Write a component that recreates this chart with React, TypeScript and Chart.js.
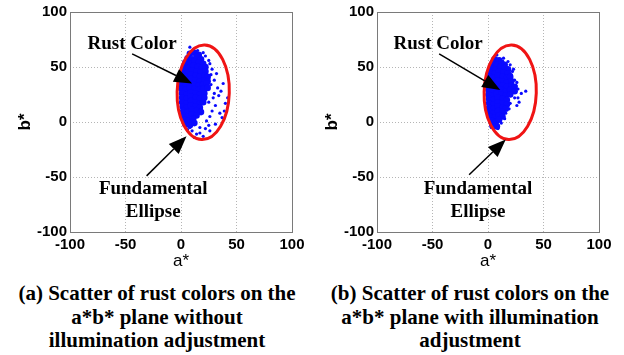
import React, { useEffect, useRef } from "react";
import { Chart, registerables } from "chart.js";

Chart.register(...registerables);

// ---- data ----
const axisTicks = [-100, -50, 0, 50, 100];
const xTitle = "a*";
const yTitle = "b*";

// fundamental ellipse in a*b* units: centre, semi-axes, tilt (radians)
const ellipseCenter = [20, 27];
const ellipseRadii = [23.5, 43];
const ellipseTilt = 0.03;

const rustLabel = "Rust Color";
const ellipseLabel = ["Fundamental", "Ellipse"];

// panel (a): dense core and sparse scatter
const coreA: number[][] = [
  [8, 62], [12, 63], [16, 61],
  [6, 58], [10, 57], [14, 59], [18, 57],
  [4, 54], [8, 53], [12, 55], [16, 54], [20, 53],
  [3, 50], [7, 49], [11, 51], [15, 50], [19, 49], [22, 50],
  [2, 46], [6, 45], [10, 47], [14, 46], [18, 45], [22, 46],
  [1, 42], [5, 41], [9, 43], [13, 42], [17, 41], [21, 42], [24, 41],
  [1, 38], [5, 37], [9, 39], [13, 38], [17, 37], [21, 38], [24, 37],
  [0.5, 34], [4, 33], [8, 35], [12, 34], [16, 33], [20, 34], [23, 35],
  [0.5, 30], [4, 29], [8, 31], [12, 30], [16, 29], [20, 30], [24, 31],
  [1, 26], [5, 25], [9, 27], [13, 26], [17, 25], [21, 26],
  [1, 22], [5, 21], [9, 23], [13, 22], [17, 21], [21, 22],
  [1, 18], [5, 17], [9, 19], [13, 18], [17, 17], [20, 18],
  [1.5, 14], [5, 13], [9, 15], [13, 14], [17, 13],
  [2, 10], [6, 9], [10, 11], [14, 10], [18, 9],
  [2.5, 6], [6, 5], [10, 7], [14, 6],
  [3, 2], [7, 1], [11, 3],
  [4, -2], [8, -3], [12, -1],
];
const outliersA: number[][] = [
  [8, 68], [11, 66], [15, 65], [20, 63], [22, 60], [25, 56], [26, 53], [28, 48],
  [32, 44], [27, 43], [30, 38], [33, 31], [38, 35], [36, 28], [29, 22], [34, 24],
  [40, 17], [31, 15], [28, 10], [35, 8], [37, 4], [26, 5], [31, -2], [23, 1],
  [26, -8], [20, -13], [17, -10], [14, -11], [10, -8], [8, -5], [17, -5], [6, -7],
  [22, -6], [12, -14], [25, -3], [30, 26], [27, 34], [25, 18], [42, 22], [39, 10],
];

// panel (b)
const coreB: number[][] = [
  [6, 57], [10, 56],
  [4, 53], [8, 52], [12, 54], [15, 52],
  [3, 49], [7, 48], [11, 50], [15, 49], [18, 48],
  [2, 45], [6, 44], [10, 46], [14, 45], [18, 44],
  [1.5, 41], [5, 40], [9, 42], [13, 41], [17, 40], [20, 41],
  [1, 37], [5, 36], [9, 38], [13, 37], [17, 36], [21, 37],
  [1, 33], [5, 32], [9, 34], [13, 33], [17, 32], [21, 33], [24, 32],
  [0.5, 29], [4, 28], [8, 30], [12, 29], [16, 28], [20, 29], [24, 28],
  [0.5, 25], [4, 24], [8, 26], [12, 25], [16, 24], [20, 25],
  [1, 21], [5, 20], [9, 22], [13, 21], [17, 20],
  [1, 17], [5, 16], [9, 18], [13, 17], [17, 16],
  [1, 13], [5, 12], [9, 14], [13, 13], [16, 12],
  [1.5, 9], [5, 8], [9, 10], [13, 9],
  [2, 5], [6, 4], [10, 6], [13, 5],
  [3, 1], [7, 0], [10, 2],
  [4, -3], [8, -4],
];
const outliersB: number[][] = [
  [8, 61], [14, 58], [18, 55], [20, 52], [22, 46], [21, 43], [24, 38], [25, 33],
  [27, 30], [34, 28], [30, 26], [27, 22], [24, 22], [26, 15], [28, 18], [20, 17],
  [19, 12], [16, 8], [15, 3], [12, -1], [9, -6], [5, -6], [3, -5], [26, 36], [23, 48],
];

// annotation anchors in a*b* units: [label, tail, tip]
const rustArrowA = [[-44, 71], [-44, 62], [10, 35]];
const ellipseArrowA = [[-25, -61], [-31, -49], [5, -13]];
const rustArrowB = [[-45, 71], [-44, 62], [11, 29]];
const ellipseArrowB = [[-9, -61], [-17, -48], [16, -16]];

const captionA = ["(a) Scatter of rust colors on the", "a*b* plane without", "illumination adjustment"];
const captionB = ["(b) Scatter of rust colors on the", "a*b* plane with illumination", "adjustment"];

// ---- styling ----
const BLUE = "rgb(10,10,255)";
const RED = "rgb(240,20,20)";
const TICK_FONT = { family: "'Liberation Sans', Arial, sans-serif", size: 15, weight: "bold" as const };
const ANNOT_FONT = "bold 19px 'Liberation Serif', 'Times New Roman', serif";

type PanelProps = {
  left: number;
  yAxisWidth: number;
  rightPad: number;
  titlePad: number;
  core: number[][];
  outliers: number[][];
  rustArrow: number[][];
  ellipseArrow: number[][];
};

function drawArrow(ctx: CanvasRenderingContext2D, x0: number, y0: number, x1: number, y1: number) {
  const ang = Math.atan2(y1 - y0, x1 - x0);
  const headLen = 18;
  const headHalf = 7;
  const bx = x1 - headLen * Math.cos(ang);
  const by = y1 - headLen * Math.sin(ang);
  ctx.save();
  ctx.strokeStyle = "#000";
  ctx.fillStyle = "#000";
  ctx.lineWidth = 1.5;
  ctx.beginPath();
  ctx.moveTo(x0, y0);
  ctx.lineTo(bx, by);
  ctx.stroke();
  ctx.beginPath();
  ctx.moveTo(x1, y1);
  ctx.lineTo(bx + headHalf * Math.sin(ang), by - headHalf * Math.cos(ang));
  ctx.lineTo(bx - headHalf * Math.sin(ang), by + headHalf * Math.cos(ang));
  ctx.closePath();
  ctx.fill();
  ctx.restore();
}

function Panel(props: PanelProps) {
  const ref = useRef<HTMLCanvasElement | null>(null);
  useEffect(() => {
    if (!ref.current) return;
    const overlay = {
      id: "overlay",
      afterDatasetsDraw(chart: any) {
        const { ctx, chartArea, scales } = chart;
        const xs = scales.x;
        const ys = scales.y;
        const px = (v: number) => xs.getPixelForValue(v);
        const py = (v: number) => ys.getPixelForValue(v);
        // frame
        ctx.save();
        ctx.strokeStyle = "#7a7a7a";
        ctx.lineWidth = 1;
        ctx.strokeRect(
          Math.round(chartArea.left) + 0.5,
          Math.round(chartArea.top) + 0.5,
          Math.round(chartArea.right - chartArea.left),
          Math.round(chartArea.bottom - chartArea.top)
        );
        // ellipse
        const cx = px(ellipseCenter[0]);
        const cy = py(ellipseCenter[1]);
        const rx = Math.abs(px(ellipseCenter[0] + ellipseRadii[0]) - cx);
        const ry = Math.abs(py(ellipseCenter[1] + ellipseRadii[1]) - cy);
        ctx.strokeStyle = RED;
        ctx.lineWidth = 3;
        ctx.beginPath();
        ctx.ellipse(cx, cy, rx, ry, ellipseTilt, 0, Math.PI * 2);
        ctx.stroke();
        // labels
        ctx.fillStyle = "#000";
        ctx.font = ANNOT_FONT;
        ctx.textAlign = "center";
        ctx.textBaseline = "middle";
        const r = props.rustArrow;
        ctx.fillText(rustLabel, px(r[0][0]), py(r[0][1]));
        const e = props.ellipseArrow;
        ctx.fillText(ellipseLabel[0], px(e[0][0]), py(e[0][1]));
        ctx.fillText(ellipseLabel[1], px(e[0][0]), py(e[0][1]) + 23);
        ctx.restore();
        drawArrow(ctx, px(r[1][0]), py(r[1][1]), px(r[2][0]), py(r[2][1]));
        drawArrow(ctx, px(e[1][0]), py(e[1][1]), px(e[2][0]), py(e[2][1]));
      },
    };
    const gridColor = (c: any) =>
      c.tick && (c.tick.value === -100 || c.tick.value === 100) ? "rgba(0,0,0,0)" : "#b5b5b5";
    const chart = new Chart(ref.current, {
      type: "scatter",
      data: {
        datasets: [
          {
            data: props.core.map(([x, y]) => ({ x, y })),
            backgroundColor: BLUE,
            borderWidth: 0,
            pointRadius: 3.3,
            pointHoverRadius: 3.3,
          },
          {
            data: props.outliers.map(([x, y]) => ({ x, y })),
            backgroundColor: BLUE,
            borderWidth: 0,
            pointRadius: 1.6,
            pointHoverRadius: 1.6,
          },
        ],
      },
      options: {
        responsive: false,
        animation: false,
        events: [],
        layout: { padding: { left: 0, right: props.rightPad, top: 12, bottom: 8 } },
        plugins: { legend: { display: false }, tooltip: { enabled: false } },
        scales: {
          x: {
            type: "linear",
            min: -100,
            max: 100,
            afterBuildTicks: (ax: any) => {
              ax.ticks = axisTicks.map((v) => ({ value: v }));
            },
            afterFit: (ax: any) => {
              ax.height = 40;
            },
            grid: { color: gridColor, drawTicks: false, lineWidth: 1 },
            border: { display: false, dash: [1, 2] },
            ticks: { font: TICK_FONT, color: "#000", padding: 4, maxRotation: 0, autoSkip: false },
            title: {
              display: true,
              text: xTitle,
              color: "#000",
              font: { family: "'Liberation Sans Narrow', 'Liberation Sans', Arial, sans-serif", size: 17 },
              padding: { top: 0, bottom: 0 },
            },
          },
          y: {
            type: "linear",
            min: -100,
            max: 100,
            afterBuildTicks: (ax: any) => {
              ax.ticks = axisTicks.map((v) => ({ value: v }));
            },
            afterFit: (ax: any) => {
              ax.width = props.yAxisWidth;
            },
            grid: { color: gridColor, drawTicks: false, lineWidth: 1 },
            border: { display: false, dash: [1, 2] },
            ticks: { font: TICK_FONT, color: "#000", padding: 3, autoSkip: false },
            title: {
              display: true,
              text: yTitle,
              color: "#000",
              font: { family: "'Liberation Sans', Arial, sans-serif", size: 17, weight: "bold" },
              padding: { top: props.titlePad, bottom: 0 },
            },
          },
        },
      },
      plugins: [overlay],
    } as any);
    return () => chart.destroy();
  }, []);
  return (
    <canvas
      ref={ref}
      width={312}
      height={280}
      style={{ position: "absolute", left: props.left, top: 0, width: 312, height: 280 }}
    />
  );
}

function Caption({ lines, center }: { lines: string[]; center: number }) {
  return (
    <div
      style={{
        position: "absolute",
        left: center - 170,
        width: 340,
        top: 282,
        textAlign: "center",
        fontFamily: "'Liberation Serif', 'Times New Roman', serif",
        fontWeight: "bold",
        fontSize: 21,
        lineHeight: "23.5px",
        color: "#000",
        whiteSpace: "nowrap",
      }}
    >
      {lines.map((l, i) => (
        <div key={i}>{l}</div>
      ))}
    </div>
  );
}

export default function App() {
  return (
    <div
      style={{
        position: "absolute",
        left: 0,
        top: 0,
        width: 624,
        height: 355,
        background: "#fff",
        overflow: "hidden",
      }}
    >
      <Panel
        left={0}
        yAxisWidth={70}
        rightPad={20}
        titlePad={15}
        core={coreA}
        outliers={outliersA}
        rustArrow={rustArrowA}
        ellipseArrow={ellipseArrowA}
      />
      <Panel
        left={312}
        yAxisWidth={65}
        rightPad={25}
        titlePad={10}
        core={coreB}
        outliers={outliersB}
        rustArrow={rustArrowB}
        ellipseArrow={ellipseArrowB}
      />
      <Caption lines={captionA} center={157} />
      <Caption lines={captionB} center={470} />
    </div>
  );
}
